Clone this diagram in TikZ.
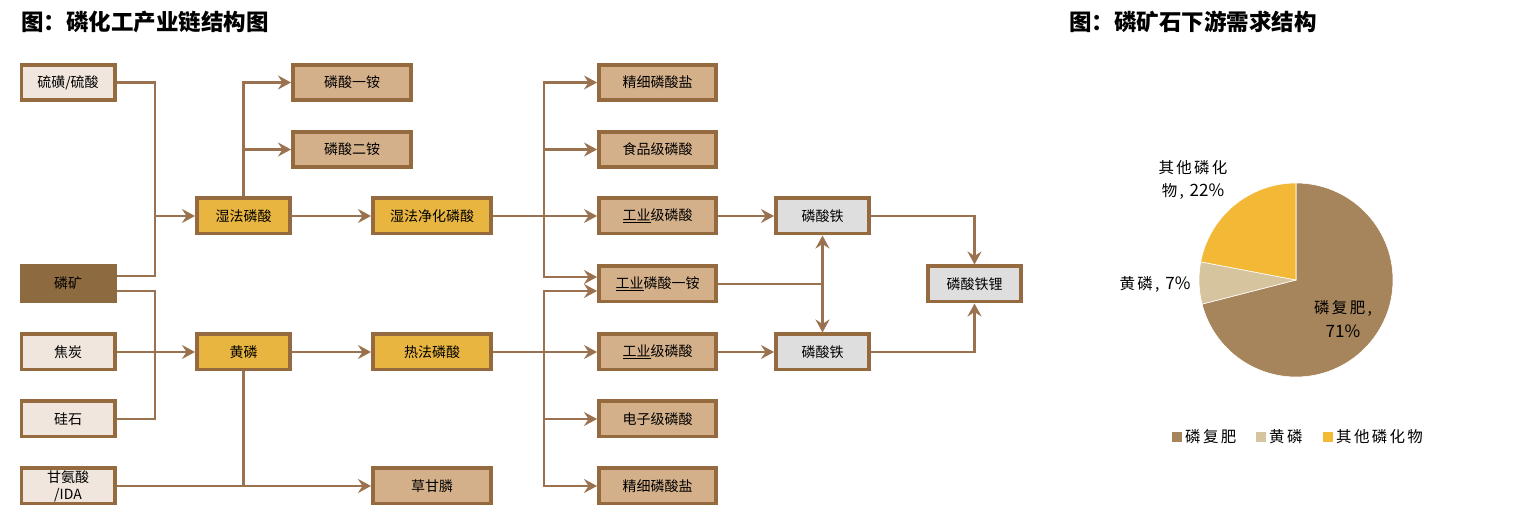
\documentclass[tikz,border=0pt]{standalone}
\usepackage{fontspec}
\newfontfamily\cjk{Noto Sans CJK SC}
\newfontfamily\cjkw[LetterSpace=15]{Noto Sans CJK SC}
\newcommand{\pnum}[1]{{\cjk\fontsize{17}{23}\selectfont #1}}
\usetikzlibrary{arrows.meta,calc}
\definecolor{bord}{HTML}{946A3E}
\definecolor{lnc}{HTML}{9A7250}
\definecolor{fLight}{HTML}{F0E6DD}
\definecolor{fTan}{HTML}{D4B08A}
\definecolor{fGold}{HTML}{E8B540}
\definecolor{fOre}{HTML}{8E6A40}
\definecolor{fGray}{HTML}{DEDEDE}
\definecolor{pA}{HTML}{A6845C}
\definecolor{pB}{HTML}{D5C49E}
\definecolor{pC}{HTML}{F3B836}
\begin{document}
\begin{tikzpicture}[x=1pt,y=-1pt,
 box/.style={draw=bord,line width=3.6pt,minimum height=35.4pt,inner sep=1pt,font=\cjk\fontsize{14}{17}\selectfont,text=black},
 bw/.style={box,minimum width=93.4pt},
 bn/.style={box,minimum width=118.4pt},
 conn/.style={draw=lnc,line width=2.4pt},
 arr/.style={conn,-{Stealth[length=13pt,width=14pt,inset=4.5pt]}},
 ttl/.style={anchor=west,inner sep=0pt,font=\cjk\bfseries\fontsize{22.5}{26}\selectfont},
 plab/.style={inner sep=0pt,align=center,font=\cjkw\fontsize{15.5}{23}\selectfont},
]
\path[use as bounding box] (0,0) rectangle (1527,518);

% titles
\node[ttl] (t1) at (21,22) {图：磷化工产业链结构图};
\node[ttl] (t2) at (1069,22) {图：磷矿石下游需求结构};

% nodes
\node[bw,fill=fLight] (sulf) at (68,82.5) {硫磺/硫酸};
\node[bw,fill=fOre,draw=fOre] (ore) at (68,283.5) {磷矿};
\node[bw,fill=fLight] (coke) at (68,352) {焦炭};
\node[bw,fill=fLight] (sil) at (68,419) {硅石};
\node[bw,fill=fLight,align=center,font=\cjk\fontsize{14}{17}\selectfont] (gly) at (68,486) {甘氨酸\\/IDA};
\node[bw,fill=fGold] (wet) at (243.5,216) {湿法磷酸};
\node[bw,fill=fGold] (yp) at (243.5,352) {黄磷};
\node[bn,fill=fTan] (map) at (352,82.5) {磷酸一铵};
\node[bn,fill=fTan] (dap) at (352,149.5) {磷酸二铵};
\node[bn,fill=fGold] (wpa) at (432,216) {湿法净化磷酸};
\node[bn,fill=fGold] (tpa) at (432,352) {热法磷酸};
\node[bn,fill=fTan] (gp) at (432,486) {草甘膦};
\node[bn,minimum width=117.4pt,fill=fTan] (r1) at (657.5,82.5) {精细磷酸盐};
\node[bn,minimum width=117.4pt,fill=fTan] (r2) at (657.5,149.5) {食品级磷酸};
\node[bn,minimum width=117.4pt,fill=fTan] (r3) at (657.5,216) {\underline{工业}级磷酸};
\node[bn,minimum width=117.4pt,fill=fTan] (r4) at (657.5,284) {\underline{工业}磷酸一铵};
\node[bn,minimum width=117.4pt,fill=fTan] (r5) at (657.5,352) {\underline{工业}级磷酸};
\node[bn,minimum width=117.4pt,fill=fTan] (r6) at (657.5,419) {电子级磷酸};
\node[bn,minimum width=117.4pt,fill=fTan] (r7) at (657.5,486) {精细磷酸盐};
\node[bw,fill=fGray] (fe1) at (822.5,216) {磷酸铁};
\node[bw,fill=fGray] (fe2) at (822.5,352) {磷酸铁};
\node[bw,fill=fGray] (lfp) at (974.5,284) {磷酸铁锂};

% connectors
\coordinate (jA) at (155,216);
\coordinate (jB) at (155,352);
\draw[conn] (sulf.east) -| (jA);
\draw[conn] ($(ore.east)+(0,-7.5)$) -| (jA);
\draw[arr] (jA) -- (wet.west);
\draw[conn] ($(ore.east)+(0,7.5)$) -| (jB);
\draw[conn] (sil.east) -| (jB);
\draw[arr] (coke.east) -- (yp.west);
\draw[arr] (wet.north) |- (map.west);
\draw[arr] (wet.north) |- (dap.west);
\draw[arr] (wet.east) -- (wpa.west);
\draw[arr] (yp.east) -- (tpa.west);
\draw[conn] (yp.south) -- (yp.south |- gp.west);
\draw[arr] (gly.east) -- (gp.west);
\coordinate (jW) at (544,216);
\coordinate (jT) at (544,352);
\draw[conn] (wpa.east) -- (jW);
\draw[conn] (tpa.east) -- (jT);
\draw[arr] (jW) |- (r1.west);
\draw[arr] (jW) |- (r2.west);
\draw[arr] (jW) -- (r3.west);
\draw[arr] (jW) |- ($(r4.west)+(0,-7)$);
\draw[arr] (jT) |- ($(r4.west)+(0,7)$);
\draw[arr] (jT) -- (r5.west);
\draw[arr] (jT) |- (r6.west);
\draw[arr] (jT) |- (r7.west);
\draw[arr] (r3.east) -- (fe1.west);
\draw[arr] (r5.east) -- (fe2.west);
\draw[arr] (r4.east) -| (fe1.south);
\draw[arr] (r4.east) -| (fe2.north);
\draw[arr] (fe1.east) -| (lfp.north);
\draw[arr] (fe2.east) -| (lfp.south);

% pie
\begin{scope}[shift={(1296,280)}]
\fill[pA,draw=white,line width=0.6pt] (0pt,0pt) -- (90:97pt) arc[start angle=90,end angle=-165.6,radius=97pt] -- cycle;
\fill[pB,draw=white,line width=0.6pt] (0pt,0pt) -- (194.4:97pt) arc[start angle=194.4,end angle=169.2,radius=97pt] -- cycle;
\fill[pC,draw=white,line width=0.6pt] (0pt,0pt) -- (169.2:97pt) arc[start angle=169.2,end angle=90,radius=97pt] -- cycle;
\end{scope}
\node[plab] (l3) at (1193,180) {其他磷化\\物, \pnum{22\%}};
\node[plab] (l2) at (1155,284) {黄磷, \pnum{7\%}};
\node[plab,font=\cjkw\fontsize{15.5}{24}\selectfont] (l1) at (1343,319) {磷复肥,\\\pnum{71\%}};

% legend
\fill[pA] (1172,432) rectangle (1182,442);
\node[plab,anchor=west] (g1) at (1185,437) {磷复肥};
\fill[pB] (1256,432) rectangle (1266,442);
\node[plab,anchor=west] (g2) at (1269,437) {黄磷};
\fill[pC] (1323,432) rectangle (1333,442);
\node[plab,anchor=west] (g3) at (1336,437) {其他磷化物};
\end{tikzpicture}
\end{document}
